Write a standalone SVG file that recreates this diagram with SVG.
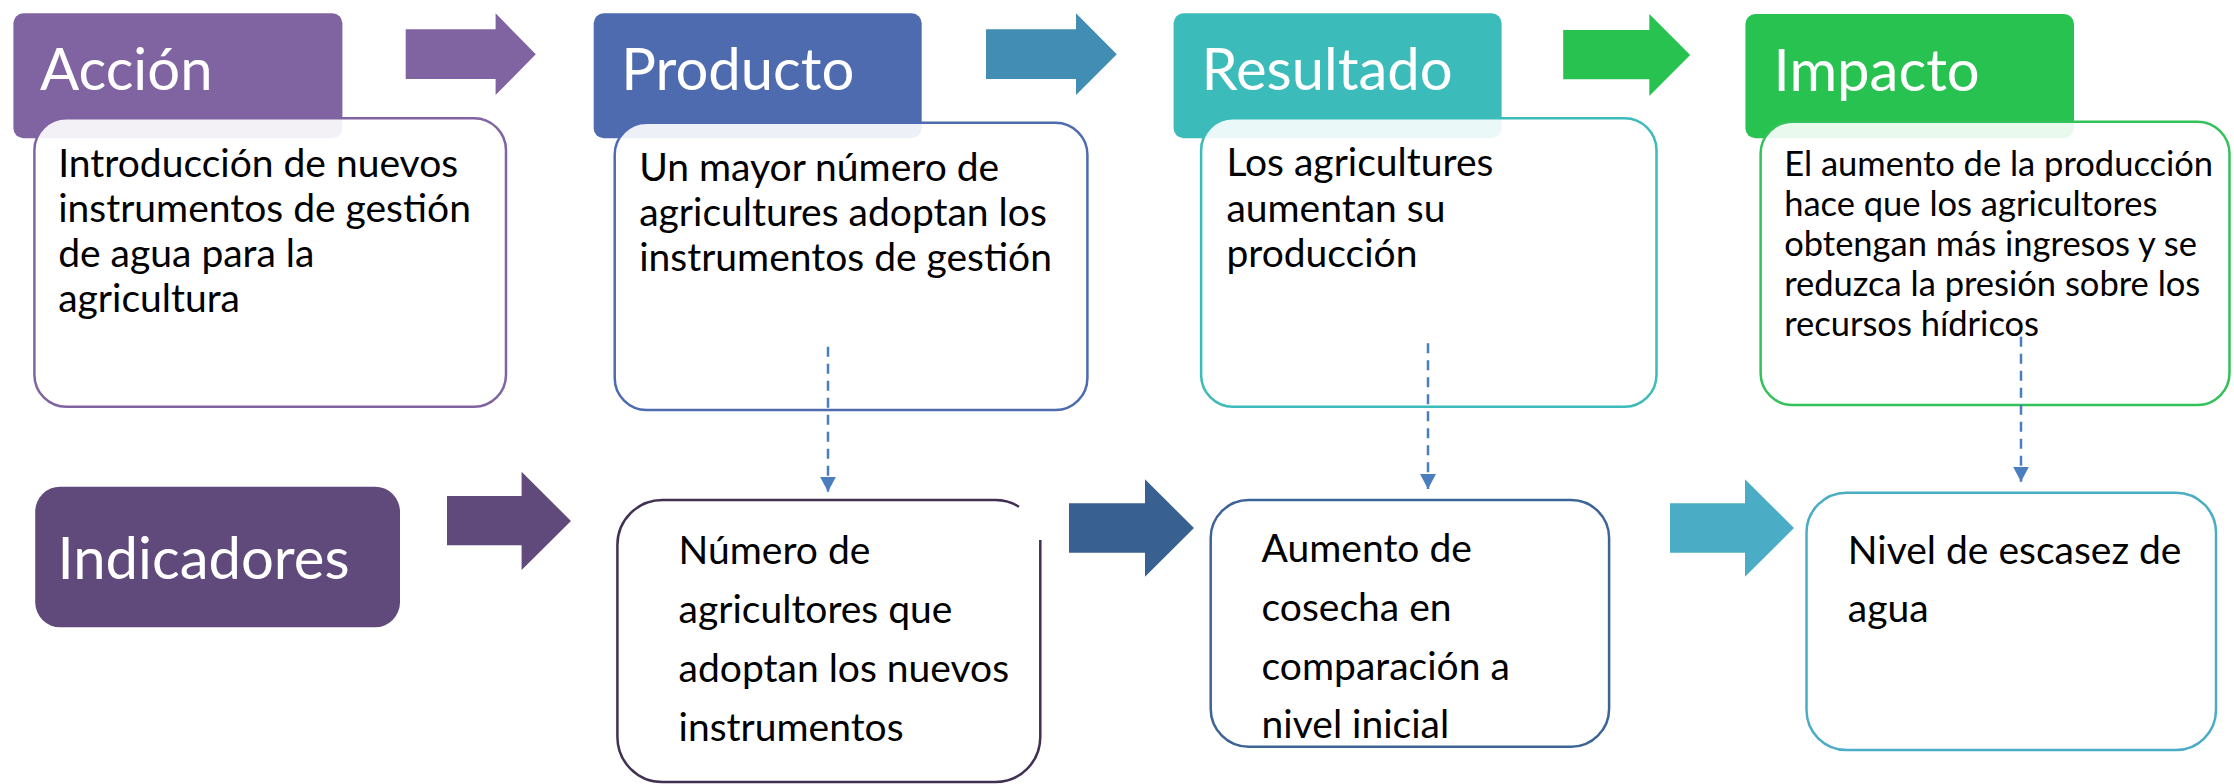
<svg xmlns="http://www.w3.org/2000/svg" width="2234" height="784" viewBox="0 0 2234 784">
<style>
text{font-family:Lato,"Noto Sans","Liberation Sans",sans-serif}
.hd{fill:#fff;font-size:58px}
.bt{fill:#000;font-size:39px}
.bs{fill:#000;font-size:34.5px}
.body{fill:#fff;fill-opacity:0.9;stroke-width:2.5}
.ib{fill:#fff;stroke-width:2.5}
.dash{stroke:#4A7EBF;stroke-width:2.5;stroke-dasharray:10 7;fill:none}
</style>
<defs>
<marker id="ah" markerUnits="userSpaceOnUse" markerWidth="16" markerHeight="16" refX="15" refY="8" orient="auto">
<path d="M0,0 L15,8 L0,16 Z" fill="#4A7EBF"/>
</marker>
</defs>
<rect width="2234" height="784" fill="#fff"/>

<g id="accion">
<rect x="13.4" y="13.3" width="329" height="125" rx="10" fill="#8064A2"/>
<text class="hd" x="40" y="90">Acción</text>
<rect class="body" x="34.4" y="118.3" width="471.6" height="288.4" rx="32" stroke="#8064A2"/>
<text class="bt" x="58.2"><tspan x="58.2" y="176.7">Introducción de nuevos</tspan><tspan x="58.2" y="221.7">instrumentos de gestión</tspan><tspan x="58.2" y="266.7">de agua para la</tspan><tspan x="58.2" y="311.7">agricultura</tspan></text>
</g>

<g id="producto">
<rect x="593.7" y="13.3" width="328" height="125" rx="10" fill="#4E6BB0"/>
<text class="hd" x="621.2" y="90">Producto</text>
<rect class="body" x="614.7" y="122.7" width="472.7" height="287.3" rx="32" stroke="#4E6BB0"/>
<text class="bt"><tspan x="639.2" y="180.5">Un mayor número de</tspan><tspan x="639.2" y="225.8">agricultures adoptan los</tspan><tspan x="639.2" y="271">instrumentos de gestión</tspan></text>
</g>

<g id="resultado">
<rect x="1173.6" y="13.3" width="328" height="125" rx="10" fill="#3BBBB9"/>
<text class="hd" x="1201.5" y="90">Resultado</text>
<rect class="body" x="1201.1" y="118.3" width="455.4" height="288.4" rx="32" stroke="#3BBBB9"/>
<text class="bt"><tspan x="1226.4" y="175.7">Los agricultures</tspan><tspan x="1226.4" y="221.7">aumentan su</tspan><tspan x="1226.4" y="266.7">producción</tspan></text>
</g>

<g id="impacto">
<rect x="1745.4" y="14" width="328.6" height="124.3" rx="10" fill="#28C251"/>
<text class="hd" x="1773.6" y="90.7">Impacto</text>
<rect class="body" x="1760.6" y="121.7" width="468.9" height="283.3" rx="32" stroke="#33C15A"/>
<text class="bs"><tspan x="1784.2" y="175.7">El aumento de la producción</tspan><tspan x="1784.2" y="215.5">hace que los agricultores</tspan><tspan x="1784.2" y="255.5">obtengan más ingresos y se</tspan><tspan x="1784.2" y="295.5">reduzca la presión sobre los</tspan><tspan x="1784.2" y="335.5">recursos hídricos</tspan></text>
</g>

<g id="indicadores">
<rect x="35.2" y="486.7" width="364.8" height="140.6" rx="25" fill="#604A7B"/>
<text class="hd" x="57.4" y="579">Indicadores</text>
</g>

<g id="ind-numero">
<path class="ib" stroke="#403152" d="M1040.3,540 L1040.3,737 A45,45 0 0 1 995.3,782 L662.4,782 A45,45 0 0 1 617.4,737 L617.4,545 A45,45 0 0 1 662.4,500 L995.3,500 A45,45 0 0 1 1019,506.75"/>
<text class="bt"><tspan x="678.6" y="564">Número de</tspan><tspan x="678.6" y="622.5">agricultores que</tspan><tspan x="678.6" y="681.5">adoptan los nuevos</tspan><tspan x="678.6" y="740.5">instrumentos</tspan></text>
</g>

<g id="ind-aumento">
<rect class="ib" x="1210.7" y="500" width="398.4" height="246.7" rx="38" stroke="#3C6496"/>
<text class="bt"><tspan x="1261.6" y="562.3">Aumento de</tspan><tspan x="1261.6" y="621">cosecha en</tspan><tspan x="1261.6" y="680">comparación a</tspan><tspan x="1261.6" y="738.3">nivel inicial</tspan></text>
</g>

<g id="ind-nivel">
<rect class="ib" x="1806.5" y="492.7" width="409.5" height="257.3" rx="40" stroke="#4BACC6"/>
<text class="bt"><tspan x="1847.8" y="564">Nivel de escasez de</tspan><tspan x="1847.8" y="622.3">agua</tspan></text>
</g>

<g id="connectors">
<polygon fill="#8064A2" points="405.7,29.3 495.6,29.3 495.6,13.3 535.8,54.2 495.6,95 495.6,79 405.7,79"/>
<polygon fill="#428DB4" points="986,29.3 1076,29.3 1076,13.3 1116.8,54.2 1076,95 1076,79 986,79"/>
<polygon fill="#28C251" points="1563.2,30 1649.3,30 1649.3,14 1690.2,55 1649.3,96 1649.3,79.3 1563.2,79.3"/>
<polygon fill="#604A7B" points="447,496 521.6,496 521.6,471.7 571,521 521.6,570 521.6,545.3 447,545.3"/>
<polygon fill="#386192" points="1069,503.3 1145,503.3 1145,479.3 1194,528 1145,576.7 1145,552.7 1069,552.7"/>
<polygon fill="#4BACC6" points="1670,503.3 1745,503.3 1745,479.3 1794,528 1745,576.7 1745,552.7 1670,552.7"/>
<line class="dash" x1="828" y1="346.7" x2="828" y2="491.7" marker-end="url(#ah)"/>
<line class="dash" x1="1428" y1="343.3" x2="1428" y2="489" marker-end="url(#ah)"/>
<line class="dash" x1="2021" y1="336.7" x2="2021" y2="481.7" marker-end="url(#ah)"/>
</g>
</svg>
